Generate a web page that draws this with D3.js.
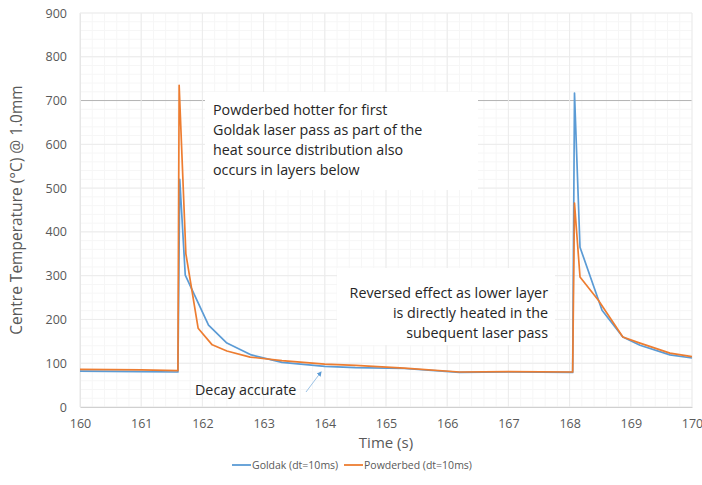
<!DOCTYPE html>
<html>
<head>
<meta charset="utf-8">
<script src="https://cdn.jsdelivr.net/npm/d3@7"></script>
<style>
  html, body { margin: 0; padding: 0; background: #fff; }
  svg { display: block; font-family: "Open Sans", sans-serif; }
</style>
</head>
<body>
<svg id="chart" width="702" height="485"></svg>
<script>
// Centre temperature at 1.0 mm depth for two heat-source models
const goldakTime = [160.0, 161.0, 161.6, 161.63, 161.72, 162.1, 162.4, 162.8, 163.3, 164.0, 164.5, 165.3, 166.2, 167.0, 168.05, 168.08, 168.17, 168.53, 168.87, 169.15, 169.64, 170.0];
const goldakTemp = [82, 81, 80, 520, 301, 187, 146, 119, 102, 93, 90, 88, 79, 80, 79, 717, 365, 221, 160, 141, 119, 112];

const powderTime = [160.0, 161.0, 161.6, 161.62, 161.73, 161.93, 162.16, 162.4, 162.78, 163.3, 164.0, 164.5, 165.3, 166.2, 167.0, 168.05, 168.08, 168.17, 168.47, 168.87, 169.15, 169.64, 170.0];
const powderTemp = [86, 85, 83, 735, 350, 180, 142, 128, 114, 106, 98, 95, 89, 80, 81, 80, 466, 297, 244, 160, 146, 123, 115];

const xTicks = [160, 161, 162, 163, 164, 165, 166, 167, 168, 169, 170];
const yTicks = [0, 100, 200, 300, 400, 500, 600, 700, 800, 900];

const seriesNames = ["Goldak (dt=10ms)", "Powderbed (dt=10ms)"];
const seriesColors = ["#5b9bd5", "#ed7d31"];

const noteFirstPass = ["Powderbed hotter for first", "Goldak laser pass as part of the", "heat source distribution also", "occurs in layers below"];
const noteSecondPass = ["Reversed effect as lower layer", "is directly heated in the", "subequent laser pass"];
const noteDecay = "Decay accurate";

const svg = d3.select("#chart");
const x = d3.scaleLinear().domain([160, 170]).range([80, 692]);
const y = d3.scaleLinear().domain([0, 900]).range([407, 13]);

// minor gridlines
const minorX = d3.range(160, 170.001, 0.2);
const minorY = d3.range(0, 900.001, 20);
svg.append("g").selectAll("line").data(minorY).join("line")
  .attr("x1", x(160)).attr("x2", x(170))
  .attr("y1", d => y(d)).attr("y2", d => y(d))
  .attr("stroke", "#f6f6f6").attr("stroke-width", 1);
svg.append("g").selectAll("line").data(minorX).join("line")
  .attr("x1", d => x(d)).attr("x2", d => x(d))
  .attr("y1", y(0)).attr("y2", y(900))
  .attr("stroke", "#f6f6f6").attr("stroke-width", 1);

// major gridlines
svg.append("g").selectAll("line").data(yTicks).join("line")
  .attr("x1", x(160)).attr("x2", x(170))
  .attr("y1", d => y(d)).attr("y2", d => y(d))
  .attr("stroke", d => d === 700 ? "#b3b3b3" : "#ebebeb").attr("stroke-width", 1);
svg.append("g").selectAll("line").data(xTicks).join("line")
  .attr("x1", d => x(d)).attr("x2", d => x(d))
  .attr("y1", y(0)).attr("y2", y(900))
  .attr("stroke", "#ebebeb").attr("stroke-width", 1);

// axes
const xAxis = svg.append("g").attr("transform", `translate(0,${y(0)})`)
  .call(d3.axisBottom(x).tickValues(xTicks).tickSize(0).tickPadding(12).tickFormat(d3.format("d")));
xAxis.select(".domain").attr("stroke", "#d0d0d0");
xAxis.selectAll("text").attr("fill", "#595959").attr("font-size", 12.5).attr("font-family", "Open Sans");

const yAxis = svg.append("g").attr("transform", `translate(${x(160)},0)`)
  .call(d3.axisLeft(y).tickValues(yTicks).tickSize(0).tickPadding(13).tickFormat(d3.format("d")));
yAxis.select(".domain").attr("stroke", "#e6e6e6");
yAxis.selectAll("text").attr("fill", "#595959").attr("font-size", 12.5).attr("font-family", "Open Sans");

// annotation boxes sit over the grid
svg.append("rect").attr("x", 205).attr("y", 92).attr("width", 273).attr("height", 98).attr("fill", "#fff");
svg.append("rect").attr("x", 337).attr("y", 268).attr("width", 218).attr("height", 77).attr("fill", "#fff");

// series lines
const line = d3.line().x(d => x(d[0])).y(d => y(d[1]));
const goldak = d3.zip(goldakTime, goldakTemp);
const powder = d3.zip(powderTime, powderTemp);
[goldak, powder].forEach((data, i) => {
  svg.append("path").datum(data)
    .attr("fill", "none")
    .attr("stroke", seriesColors[i])
    .attr("stroke-width", 1.7)
    .attr("stroke-linejoin", "round")
    .attr("d", line);
});

// annotations
svg.append("g").selectAll("text").data(noteFirstPass).join("text")
  .attr("x", 213).attr("y", (d, i) => 115 + i * 20)
  .attr("fill", "#262626").attr("font-size", 14.3)
  .text(d => d);

svg.append("g").selectAll("text").data(noteSecondPass).join("text")
  .attr("x", 548).attr("y", (d, i) => 298 + i * 20)
  .attr("text-anchor", "end")
  .attr("fill", "#262626").attr("font-size", 14.3)
  .text(d => d);

svg.append("text").attr("x", 195).attr("y", 395)
  .attr("fill", "#262626").attr("font-size", 14.3).text(noteDecay);

svg.append("defs").append("marker")
  .attr("id", "head").attr("viewBox", "0 0 10 10")
  .attr("refX", 8).attr("refY", 5)
  .attr("markerWidth", 5).attr("markerHeight", 5)
  .attr("orient", "auto")
  .append("path").attr("d", "M0,0L10,5L0,10Z").attr("fill", "#5b9bd5");
svg.append("line")
  .attr("x1", 306).attr("y1", 392).attr("x2", 321).attr("y2", 372)
  .attr("stroke", "#9dc3e6").attr("stroke-width", 1)
  .attr("marker-end", "url(#head)");

// axis titles
svg.append("text").attr("x", 386).attr("y", 448)
  .attr("text-anchor", "middle").attr("fill", "#595959").attr("font-size", 15)
  .text("Time (s)");
svg.append("text")
  .attr("transform", `translate(22,${(y(0) + y(900)) / 2}) rotate(-90)`)
  .attr("text-anchor", "middle").attr("fill", "#595959").attr("font-size", 15.5)
  .text("Centre Temperature (°C) @ 1.0mm");

// legend
const legend = svg.append("g");
const legendX = [232, 344];
seriesNames.forEach((name, i) => {
  legend.append("line")
    .attr("x1", legendX[i]).attr("x2", legendX[i] + 19)
    .attr("y1", 465).attr("y2", 465)
    .attr("stroke", seriesColors[i]).attr("stroke-width", 1.8);
  legend.append("text")
    .attr("x", legendX[i] + 20).attr("y", 469)
    .attr("fill", "#595959").attr("font-size", 10.5)
    .text(name);
});
</script>
</body>
</html>
